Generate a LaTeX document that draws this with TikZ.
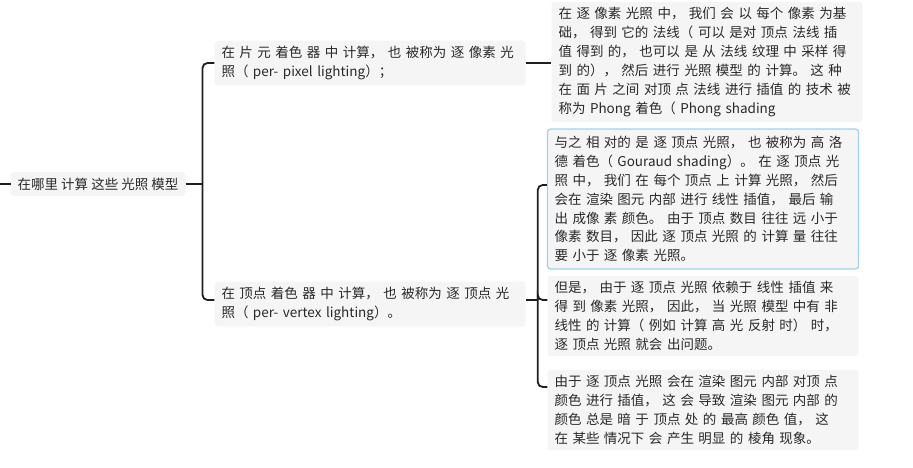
\documentclass[tikz,border=0pt]{standalone}
\usepackage{fontspec}
\setmainfont{Noto Sans CJK SC}
\usetikzlibrary{positioning}
\definecolor{pickblue}{RGB}{158,212,238}

\begin{document}
\begin{tikzpicture}[x=1pt, y=-1pt]

  \tikzset{topic/.style = {fill=black!4, rounded corners=3pt, text=black!84,
      font=\fontsize{13.5}{18.9}\selectfont, inner xsep=7pt, inner ysep=5.5pt}}
  \tikzset{note/.style = {topic, text width=297pt, align=left}}
  \tikzset{picked/.style = {draw=pickblue, line width=1.3pt, inner ysep=7pt}}
  \tikzset{edge/.style = {line width=1.8pt, black!88, rounded corners=5pt}}
  \useasboundingbox (0,0) rectangle (913,467);
  % topics
  \node[topic] (root) at (98,184) {在哪里 计算 这些 光照 模型};
  \node[note] (frag) at (370,63)
    {在 片 元 着色 器 中 计算， 也 被称为 逐 像素 光\\照（ per- pixel lighting）；};
  \node[note] (vert) at (370,304)
    {在 顶点 着色 器 中 计算， 也 被称为 逐 顶点 光\\照（ per- vertex lighting）。};
  \node[note] (phong) at (707,62)
    {在 逐 像素 光照 中， 我们 会 以 每个 像素 为基\\
     础， 得到 它的 法线（ 可以 是对 顶点 法线 插\\
     值 得到 的， 也可以 是 从 法线 纹理 中 采样 得\\
     到 的）， 然后 进行 光照 模型 的 计算。 这 种\\
     在 面 片 之间 对顶 点 法线 进行 插值 的 技术 被\\
     称为 Phong 着色（ Phong shading};
  \node[note, picked] (gouraud) at (703,199)
    {与之 相 对的 是 逐 顶点 光照， 也 被称为 高 洛\\
     德 着色（ Gouraud shading）。 在 逐 顶点 光\\
     照 中， 我们 在 每个 顶点 上 计算 光照， 然后\\
     会在 渲染 图元 内部 进行 线性 插值， 最后 输\\
     出 成像 素 颜色。 由于 顶点 数目 往往 远 小于\\
     像素 数目， 因此 逐 顶点 光照 的 计算 量 往往\\
     要 小于 逐 像素 光照。};
  \node[note] (but) at (703,316)
    {但是， 由于 逐 顶点 光照 依赖于 线性 插值 来\\
     得 到 像素 光照， 因此， 当 光照 模型 中有 非\\
     线性 的 计算（ 例如 计算 高 光 反射 时） 时，\\
     逐 顶点 光照 就会 出问题。};
  \node[note] (edges) at (703,410)
    {由于 逐 顶点 光照 会在 渲染 图元 内部 对顶 点\\
     颜色 进行 插值， 这 会 导致 渲染 图元 内部 的\\
     颜色 总是 暗 于 顶点 处 的 最高 颜色 值， 这\\
     在 某些 情况下 会 产生 明显 的 棱角 现象。};
  \coordinate (in) at (0,184);
  %edges
  \draw[edge] (in) -- (root.west);
  \draw[edge] (root.east) -- ++(17,0) coordinate (j1);
  \draw[edge] (j1) |- (frag.west);
  \draw[edge] (j1) |- ([yshift=4pt]vert.west);
  \draw[edge] (frag.east) -- (phong.west |- frag.east);
  \draw[edge] ([yshift=4pt]vert.east) -- ++(12,0) coordinate (j2);
  \draw[edge] (j2) |- ([yshift=14pt]gouraud.west);
  \draw[edge] (j2) |- ([yshift=16pt]but.west);
  \draw[edge] (j2) |- ([yshift=23pt]edges.west);
\end{tikzpicture}
\end{document}
